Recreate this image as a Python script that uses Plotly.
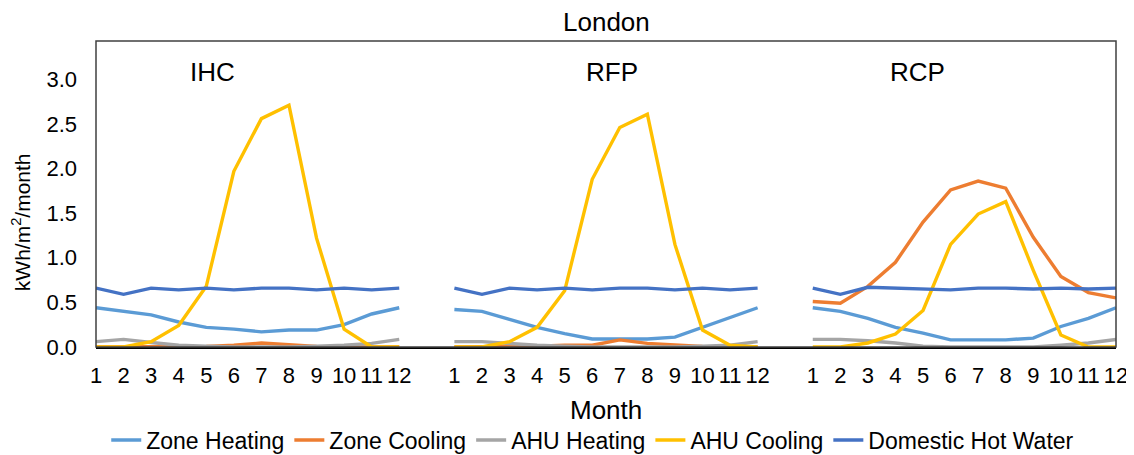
import plotly.graph_objects as go

months = list(range(1, 13))
panels = ["IHC", "RFP", "RCP"]
series_names = ["Zone Heating", "Zone Cooling", "AHU Heating", "AHU Cooling", "Domestic Hot Water"]
colors = ["#5B9BD5", "#ED7D31", "#A5A5A5", "#FFC000", "#4472C4"]

# values per panel (IHC, RFP, RCP), months 1..12
zone_heating = [
    [0.44, 0.40, 0.36, 0.28, 0.22, 0.20, 0.17, 0.19, 0.19, 0.25, 0.37, 0.44],
    [0.42, 0.40, 0.31, 0.22, 0.15, 0.09, 0.09, 0.09, 0.11, 0.22, 0.32, 0.44],
    [0.44, 0.40, 0.32, 0.22, 0.155, 0.08, 0.08, 0.08, 0.10, 0.23, 0.32, 0.44],
]
zone_cooling = [
    [0.0, 0.0, 0.0, 0.0, 0.005, 0.02, 0.045, 0.025, 0.005, 0.0, 0.0, 0.0],
    [0.0, 0.0, 0.005, 0.01, 0.02, 0.02, 0.08, 0.04, 0.02, 0.005, 0.0, 0.0],
    [0.51, 0.49, 0.68, 0.95, 1.40, 1.76, 1.86, 1.78, 1.23, 0.79, 0.61, 0.55],
]
ahu_heating = [
    [0.06, 0.085, 0.05, 0.02, 0.01, 0.0, 0.0, 0.0, 0.01, 0.02, 0.04, 0.085],
    [0.06, 0.06, 0.04, 0.02, 0.01, 0.0, 0.0, 0.0, 0.0, 0.01, 0.02, 0.06],
    [0.085, 0.085, 0.07, 0.045, 0.01, 0.0, 0.0, 0.0, 0.0, 0.02, 0.045, 0.085],
]
ahu_cooling = [
    [0.0, 0.0, 0.06, 0.24, 0.68, 1.97, 2.56, 2.71, 1.22, 0.20, 0.0, 0.0],
    [0.0, 0.0, 0.06, 0.22, 0.63, 1.88, 2.46, 2.61, 1.15, 0.19, 0.02, 0.0],
    [0.0, 0.0, 0.045, 0.145, 0.41, 1.15, 1.49, 1.63, 0.86, 0.135, 0.0, 0.0],
]
dhw = [
    [0.66, 0.59, 0.66, 0.64, 0.66, 0.64, 0.66, 0.66, 0.64, 0.66, 0.64, 0.66],
    [0.66, 0.59, 0.66, 0.64, 0.66, 0.64, 0.66, 0.66, 0.64, 0.66, 0.64, 0.66],
    [0.66, 0.59, 0.67, 0.66, 0.65, 0.64, 0.66, 0.66, 0.65, 0.66, 0.65, 0.66],
]
all_series = [zone_heating, zone_cooling, ahu_heating, ahu_cooling, dhw]

y_ticks = [0.0, 0.5, 1.0, 1.5, 2.0, 2.5, 3.0]

FONT = "Liberation Sans, Arial, sans-serif"
gap = 13  # category slots per panel (12 months + 1 blank)

# category positions
tickvals, ticktext = [], []
for p in range(len(panels)):
    for m in months:
        tickvals.append(p * gap + (m - 1))
        ticktext.append(str(m))

fig = go.Figure()
for name, color, data in zip(series_names, colors, all_series):
    xs, ys = [], []
    for p, vals in enumerate(data):
        if p > 0:
            xs.append(None)
            ys.append(None)
        for m, v in zip(months, vals):
            xs.append(p * gap + (m - 1))
            ys.append(v)
    fig.add_trace(go.Scatter(x=xs, y=ys, mode="lines", name=name,
                             line=dict(color=color, width=3.4), connectgaps=False))

x_max = (len(panels) - 1) * gap + 11
fig.update_xaxes(range=[0, x_max], tickmode="array", tickvals=tickvals, ticktext=ticktext,
                 showgrid=False, zeroline=False, showline=True, linecolor="#000000", linewidth=1.5,
                 ticks="", tickfont=dict(family=FONT, size=22, color="#000"),
                 ticklabelstandoff=8, automargin=False)
fig.update_yaxes(range=[0, 3.43], tickmode="array", tickvals=y_ticks,
                 ticktext=[f"{v:.1f}" for v in y_ticks],
                 showgrid=False, zeroline=False, showline=False, ticks="",
                 tickfont=dict(family=FONT, size=22, color="#000"), ticklabelstandoff=18,
                 automargin=False)

annotations = [
    dict(text="London", xref="paper", yref="paper", x=0.5, y=1.062, xanchor="center", yanchor="middle",
         showarrow=False, font=dict(family=FONT, size=26, color="#000")),
    dict(text="Month", xref="paper", yref="paper", x=0.5, y=-0.206, xanchor="center", yanchor="middle",
         showarrow=False, font=dict(family=FONT, size=26, color="#000")),
    dict(text="kWh/m<sup>2</sup>/month", xref="paper", yref="paper", x=-0.0735, y=0.408, textangle=-90,
         xanchor="center", yanchor="middle", showarrow=False, font=dict(family=FONT, size=21, color="#000")),
]
label_x = [4.24, 18.7, 29.8]
for lbl, lx in zip(panels, label_x):
    annotations.append(dict(text=lbl, xref="x", yref="y", x=lx, y=3.08, xanchor="center", yanchor="middle",
                            showarrow=False, font=dict(family=FONT, size=26, color="#000")))

# page body has an 8px default margin, so the figure is sized/offset to compensate
fig.update_layout(
    width=1126, height=447,
    margin=dict(l=88, r=18, t=33, b=108, autoexpand=False),
    plot_bgcolor="white", paper_bgcolor="white",
    annotations=annotations,
    shapes=[dict(type="rect", xref="paper", yref="paper", x0=0, x1=1, y0=0, y1=1,
                 line=dict(color="#404040", width=1.5), layer="above")],
    legend=dict(orientation="h", x=0.487, y=-0.304, xanchor="center", yanchor="middle",
                font=dict(family=FONT, size=23, color="#000"), itemwidth=30,
                tracegroupgap=0, bgcolor="rgba(0,0,0,0)"),
    showlegend=True,
)

fig.write_html("out.html")
